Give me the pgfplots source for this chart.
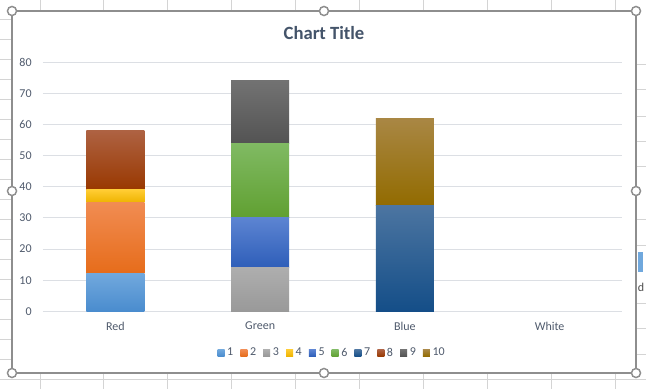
\documentclass[border=0pt]{standalone}
\usepackage{pgfplots}
\pgfplotsset{compat=1.18}
\usepackage{fontspec}
\setmainfont{Carlito}
\pgfdeclarelayer{background}
\pgfsetlayers{background,main}
\definecolor{ttl}{HTML}{44546A}
\definecolor{lab}{HTML}{4F5A6C}
\definecolor{gridc}{HTML}{DCDFE4}
\definecolor{sheet}{HTML}{D4D4D4}
\definecolor{framec}{HTML}{8E8E8E}
\definecolor{c1t}{HTML}{70A8DD}\definecolor{c1b}{HTML}{4A8CCE}
\definecolor{c2t}{HTML}{F18C52}\definecolor{c2b}{HTML}{E66C1A}
\definecolor{c3t}{HTML}{AEAEAE}\definecolor{c3b}{HTML}{999999}
\definecolor{c4t}{HTML}{FFCC33}\definecolor{c4b}{HTML}{EEB300}
\definecolor{c5t}{HTML}{5C84D2}\definecolor{c5b}{HTML}{2E5EB9}
\definecolor{c6t}{HTML}{80BA63}\definecolor{c6b}{HTML}{60A031}
\definecolor{c7t}{HTML}{4C75A1}\definecolor{c7b}{HTML}{144E88}
\definecolor{c8t}{HTML}{AE6242}\definecolor{c8b}{HTML}{993800}
\definecolor{c9t}{HTML}{727272}\definecolor{c9b}{HTML}{535353}
\definecolor{c10t}{HTML}{A98744}\definecolor{c10b}{HTML}{926B00}
\begin{document}
\begin{tikzpicture}[x=0.75pt,y=0.75pt]
\begin{axis}[
  scale only axis, width=434.25pt, height=186.75pt,
  ybar stacked, bar width=43.5pt,
  xmin=-0.5, xmax=3.5, ymin=0, ymax=80,
  xtick={0,1,2,3}, xticklabels={Red,Green,Blue,White},
  ytick={0,10,...,80},
  axis line style={draw=none}, major tick length=0pt, tick pos=left,
  ymajorgrids, grid style={gridc, line width=0.75pt},
  ticklabel style={font=\fontsize{9}{11}\selectfont, text=lab},
  /pgf/number format/assume math mode=true,
  yticklabel style={xshift=-5pt},
  xticklabel style={yshift=-4.5pt},
  legend columns=-1,
  legend style={draw=none, fill=none, at={(0.5,-0.1675)}, anchor=center,
    font=\fontsize{9}{11}\selectfont, text=lab,
    /tikz/every even column/.append style={column sep=3.3pt}},
  legend image code/.code={\fill[#1] (0pt,-2.6pt) rectangle (5.25pt,2.6pt);},
]
\addplot[draw=none, top color=c1t, bottom color=c1b] coordinates {(0,12) (1,0) (2,0) (3,0)};
\addplot[draw=none, top color=c2t, bottom color=c2b] coordinates {(0,23) (1,0) (2,0) (3,0)};
\addplot[draw=none, top color=c3t, bottom color=c3b] coordinates {(0,0) (1,14) (2,0) (3,0)};
\addplot[draw=none, top color=c4t, bottom color=c4b] coordinates {(0,4) (1,0) (2,0) (3,0)};
\addplot[draw=none, top color=c5t, bottom color=c5b] coordinates {(0,0) (1,16) (2,0) (3,0)};
\addplot[draw=none, top color=c6t, bottom color=c6b] coordinates {(0,0) (1,24) (2,0) (3,0)};
\addplot[draw=none, top color=c7t, bottom color=c7b] coordinates {(0,0) (1,0) (2,34) (3,0)};
\addplot[draw=none, top color=c8t, bottom color=c8b] coordinates {(0,19) (1,0) (2,0) (3,0)};
\addplot[draw=none, top color=c9t, bottom color=c9b] coordinates {(0,0) (1,20) (2,0) (3,0)};
\addplot[draw=none, top color=c10t, bottom color=c10b] coordinates {(0,0) (1,0) (2,28) (3,0)};
\legend{1,2,3,4,5,6,7,8,9,10}
\coordinate (O) at (axis cs:-0.5,0);
\end{axis}
\pgfresetboundingbox
\begin{scope}[shift={(O)}, shift={(-43,-77.7)}]
\useasboundingbox (0,0) rectangle (646,389);
\begin{pgfonlayer}{background}
\fill[white] (0,0) rectangle (646,389);
\foreach \x in {40,103,167,231,295,359,423,487,551,615} {
  \draw[sheet, line width=0.75pt] (\x,378) -- (\x,389);
  \draw[sheet, line width=0.75pt] (\x,0) -- (\x,16);
}
\foreach \y in {369.5,349.5,...,20} \draw[sheet, line width=0.75pt] (0,\y) -- (12,\y);
\draw[sheet, line width=0.75pt] (0,9.5) -- (646,9.5);
\foreach \y in {324,299,272,247,222,169,143,86,61,35} \draw[sheet, line width=0.75pt] (636,\y) -- (646,\y);
\draw[framec, line width=0.9pt, fill=white] (12,16) rectangle (636,378);
\end{pgfonlayer}
\fill[c1t] (638,117) rectangle (643,137);
\node[anchor=west, inner sep=0pt, font=\fontsize{9}{10}\selectfont, text=black!70] at (637.5,102) {d};
\node[font=\fontsize{14}{16}\selectfont\bfseries, text=ttl] at (324,355.5) {Chart Title};
\foreach \p in {(12,378),(324,378),(636,378),(12,198),(636,198),(12,16),(324,16),(636,16)}
  \draw[framec, line width=1.1pt, fill=white] \p circle[radius=3.4pt];
\end{scope}
\end{tikzpicture}
\end{document}
